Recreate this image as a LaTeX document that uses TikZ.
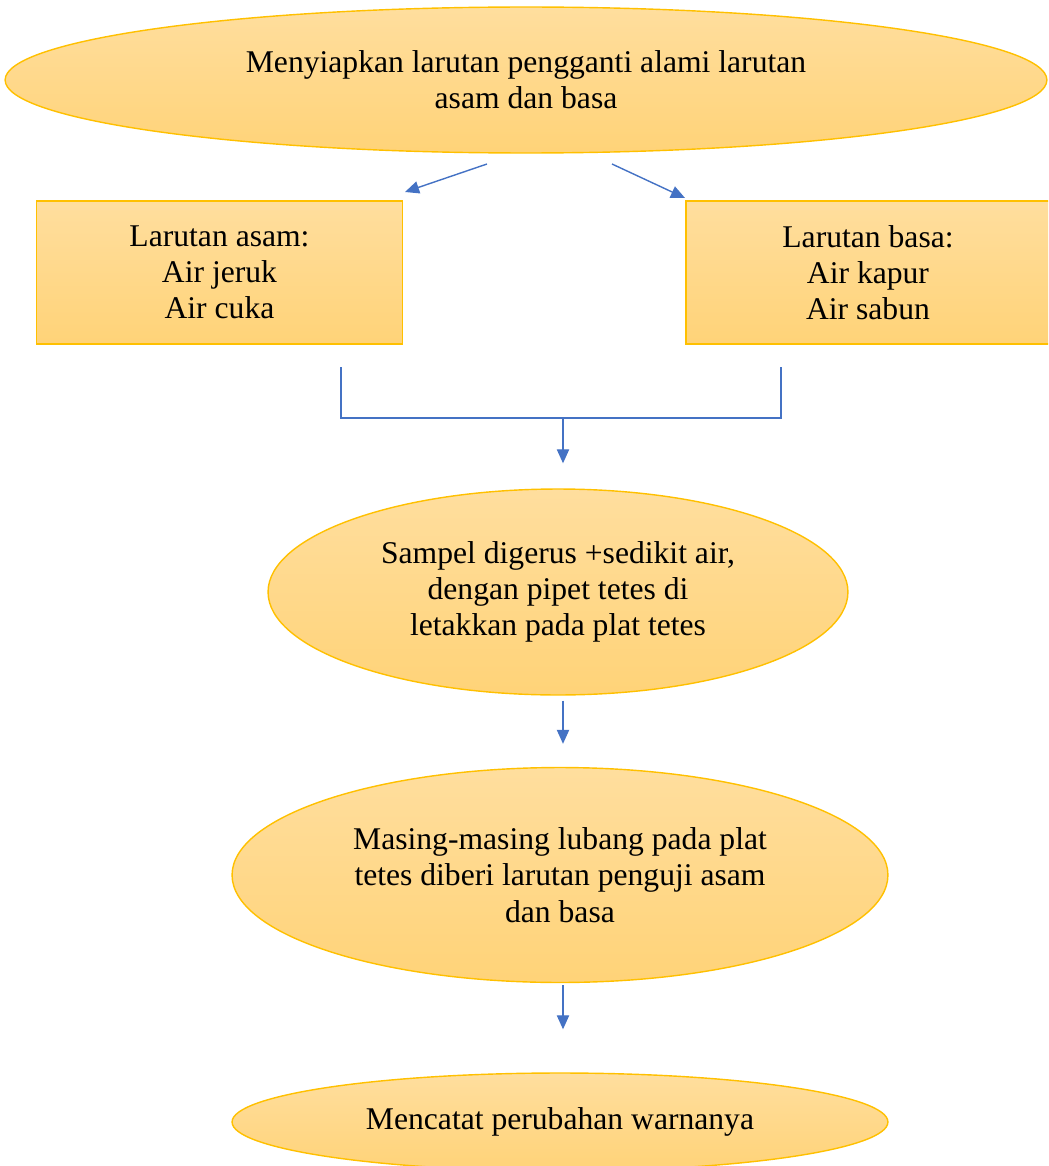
\documentclass[tikz,border=0pt]{standalone}
\usepackage{fontspec}
\setmainfont{Liberation Serif}
\usepackage{tikz}
\usetikzlibrary{arrows.meta,positioning,shapes.geometric}
\definecolor{goldtop}{RGB}{255,222,158}
\definecolor{goldbot}{RGB}{255,211,120}
\definecolor{goldline}{RGB}{255,192,0}
\definecolor{arrblue}{RGB}{68,114,196}

\begin{document}
\begin{tikzpicture}[
    x=0.02cm, y=-0.02cm,
    font=\fontsize{18}{20.6}\selectfont,
    goldfill/.style={top color=goldtop, bottom color=goldbot, draw=goldline, line width=0.8pt, inner sep=0, align=center},
    oval/.style={goldfill, ellipse},
    box/.style={goldfill, rectangle},
    arr/.style={draw=arrblue, line width=0.8pt, -{Triangle[length=8pt,width=7pt]}},
    lin/.style={draw=arrblue, line width=0.8pt}]
\useasboundingbox (0,0) rectangle (1048,1166);
\clip (0,0) rectangle (1048,1166);

\node[oval, minimum width=20.84cm, minimum height=2.92cm] (siap) at (526,80)
    {Menyiapkan larutan pengganti alami larutan\\asam dan basa};
\node[box, minimum width=7.32cm, minimum height=2.86cm] (asam) at (219.5,272.5)
    {Larutan asam:\\Air jeruk\\Air cuka};
\node[box, minimum width=7.28cm, minimum height=2.86cm] (basa) at (868,272.5)
    {Larutan basa:\\Air kapur\\Air sabun};
\node[oval, minimum width=11.6cm, minimum height=4.12cm] (sampel) at (558,592)
    {Sampel digerus +sedikit air,\\dengan pipet tetes di\\letakkan pada plat tetes};
\node[oval, minimum width=13.12cm, minimum height=4.3cm] (lubang) at (560,875)
    {Masing-masing lubang pada plat\\tetes diberi larutan penguji asam\\dan basa};
\node[oval, minimum width=13.12cm, minimum height=1.96cm] (catat) at (560,1122)
    {Mencatat perubahan warnanya};

% split into acid / base
\coordinate (sa) at (487,164);
\coordinate (sb) at (612,164);
\coordinate (ea) at (405,192);
\coordinate (eb) at (685,198);
\draw[arr] (sa) -- (ea);
\draw[arr] (sb) -- (eb);

% join back
\coordinate (ja) at (341,367);
\coordinate (jb) at (781,367);
\coordinate (jm) at (563,418);
\draw[lin] (ja) |- (jm) -| (jb);
\draw[arr] (jm) -- ([yshift=0.5cm]sampel.north -| jm);

\draw[arr] ([yshift=-0.1cm]sampel.south -| jm) -- ([yshift=0.46cm]lubang.north -| jm);
\draw[arr] ([yshift=-0.04cm]lubang.south -| jm) -- ([yshift=0.86cm]catat.north -| jm);

\end{tikzpicture}
\end{document}
